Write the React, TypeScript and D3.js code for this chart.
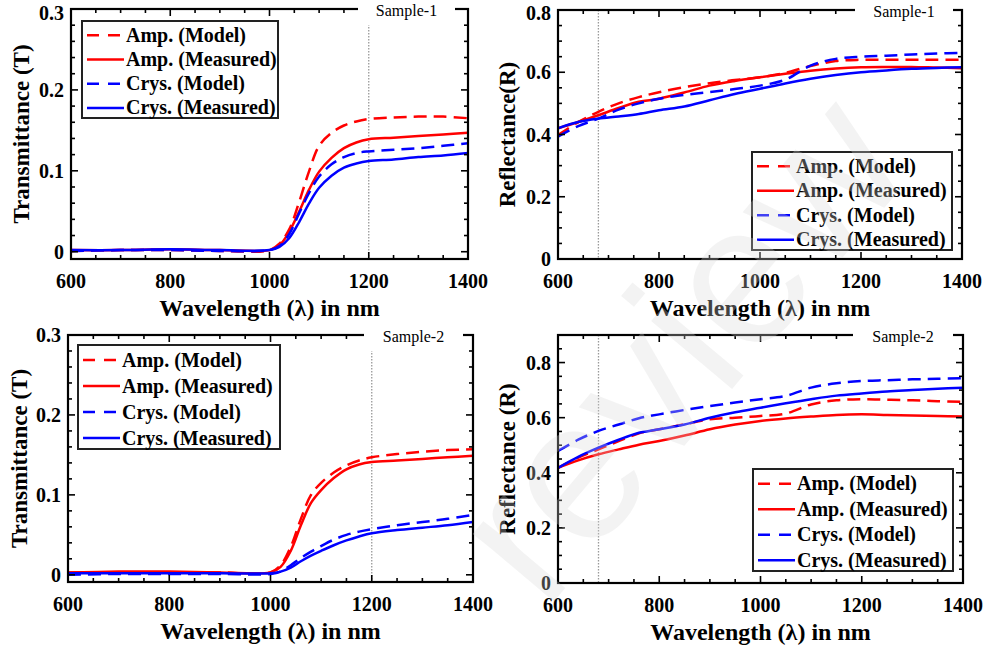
import React, { useEffect, useRef } from "react";
import * as d3 from "d3";

const W = 987;
const H = 655;
const SERIF = "Liberation Serif";

// wavelength grids (nm)
const waveT = [600, 700, 800, 900, 1000, 1020, 1040, 1060, 1080, 1100, 1125, 1150, 1175, 1200, 1250, 1300, 1350, 1400];
const waveR = [600, 640, 680, 720, 760, 800, 850, 900, 950, 1000, 1050, 1100, 1150, 1200, 1250, 1300, 1350, 1400];

// Sample-1 transmittance
const s1TAmpModel = [0.001, 0.002, 0.002, 0.001, 0.002, 0.01, 0.028, 0.062, 0.1, 0.131, 0.147, 0.156, 0.161, 0.164, 0.166, 0.167, 0.167, 0.165];
const s1TAmpMeas = [0.002, 0.002, 0.003, 0.002, 0.002, 0.008, 0.025, 0.05, 0.077, 0.099, 0.116, 0.128, 0.135, 0.139, 0.141, 0.143, 0.145, 0.147];
const s1TCrysModel = [0.001, 0.002, 0.002, 0.001, 0.002, 0.007, 0.022, 0.048, 0.073, 0.093, 0.108, 0.117, 0.122, 0.124, 0.126, 0.128, 0.131, 0.134];
const s1TCrysMeas = [0.002, 0.002, 0.003, 0.002, 0.002, 0.006, 0.017, 0.037, 0.06, 0.079, 0.094, 0.104, 0.109, 0.112, 0.114, 0.117, 0.119, 0.122];

// Sample-1 reflectance
const s1RAmpModel = [0.398, 0.44, 0.473, 0.5, 0.52, 0.536, 0.552, 0.565, 0.575, 0.584, 0.598, 0.62, 0.636, 0.64, 0.64, 0.64, 0.64, 0.64];
const s1RAmpMeas = [0.42, 0.44, 0.462, 0.485, 0.505, 0.515, 0.535, 0.557, 0.572, 0.584, 0.595, 0.605, 0.612, 0.616, 0.617, 0.617, 0.615, 0.613];
const s1RCrysModel = [0.393, 0.427, 0.451, 0.48, 0.5, 0.515, 0.527, 0.536, 0.546, 0.557, 0.576, 0.621, 0.643, 0.65, 0.653, 0.657, 0.66, 0.662];
const s1RCrysMeas = [0.42, 0.44, 0.451, 0.458, 0.466, 0.478, 0.49, 0.51, 0.53, 0.547, 0.564, 0.579, 0.591, 0.6, 0.606, 0.611, 0.614, 0.616];

// Sample-2 transmittance
const s2TAmpModel = [0.003, 0.003, 0.003, 0.003, 0.003, 0.012, 0.035, 0.07, 0.1, 0.115, 0.128, 0.137, 0.143, 0.147, 0.151, 0.154, 0.156, 0.157];
const s2TAmpMeas = [0.003, 0.004, 0.004, 0.003, 0.003, 0.01, 0.03, 0.062, 0.09, 0.106, 0.121, 0.132, 0.138, 0.141, 0.143, 0.145, 0.147, 0.149];
const s2TCrysModel = [0.0, 0.001, 0.001, 0.001, 0.001, 0.004, 0.012, 0.021, 0.029, 0.036, 0.044, 0.05, 0.054, 0.057, 0.062, 0.066, 0.07, 0.075];
const s2TCrysMeas = [0.002, 0.002, 0.002, 0.002, 0.002, 0.004, 0.009, 0.017, 0.024, 0.03, 0.037, 0.043, 0.048, 0.052, 0.056, 0.059, 0.062, 0.066];

// Sample-2 reflectance
const s2RAmpModel = [0.418, 0.455, 0.485, 0.515, 0.543, 0.558, 0.576, 0.594, 0.6, 0.606, 0.615, 0.648, 0.663, 0.667, 0.665, 0.663, 0.66, 0.657];
const s2RAmpMeas = [0.418, 0.445, 0.467, 0.485, 0.502, 0.515, 0.535, 0.558, 0.575, 0.588, 0.597, 0.604, 0.61, 0.612, 0.61, 0.608, 0.606, 0.604];
const s2RCrysModel = [0.479, 0.52, 0.552, 0.575, 0.598, 0.612, 0.628, 0.642, 0.655, 0.667, 0.679, 0.709, 0.725, 0.733, 0.736, 0.739, 0.741, 0.743];
const s2RCrysMeas = [0.418, 0.458, 0.491, 0.52, 0.545, 0.558, 0.575, 0.6, 0.62, 0.636, 0.652, 0.667, 0.68, 0.688, 0.695, 0.7, 0.705, 0.709];

const seriesNames = ["Amp. (Model)", "Amp. (Measured)", "Crys. (Model)", "Crys. (Measured)"];
const seriesColors = ["#ff0000", "#ff0000", "#0000ff", "#0000ff"];
const seriesDashed = [true, false, true, false];

const panels = [
  {
    wave: waveT, values: [s1TAmpModel, s1TAmpMeas, s1TCrysModel, s1TCrysMeas],
    left: 71, right: 468, top: 9, bottom: 259, yDomain: [-0.009, 0.3], yMajor: 0.1, yMinor: 0.02,
    yLabel: "Transmittance (T)", yLabelX: 21, legend: { x: 82, y: 21, w: 196, h: 97 },
    sample: "Sample-1", gap: [358, 455], dotX: 1200,
  },
  {
    wave: waveR, values: [s1RAmpModel, s1RAmpMeas, s1RCrysModel, s1RCrysMeas],
    left: 558, right: 962, top: 10, bottom: 259, yDomain: [0, 0.8], yMajor: 0.2, yMinor: 0.05,
    yLabel: "Reflectance(R)", yLabelX: 507, legend: { x: 752, y: 152, w: 200, h: 98 },
    sample: "Sample-1", gap: [855, 953], dotX: 680,
  },
  {
    wave: waveT, values: [s2TAmpModel, s2TAmpMeas, s2TCrysModel, s2TCrysMeas],
    left: 68, right: 473, top: 335, bottom: 582, yDomain: [-0.009, 0.3], yMajor: 0.1, yMinor: 0.02,
    yLabel: "Transmittance (T)", yLabelX: 19, legend: { x: 78, y: 345, w: 202, h: 104 },
    sample: "Sample-2", gap: [364, 463], dotX: 1200,
  },
  {
    wave: waveR, values: [s2RAmpModel, s2RAmpMeas, s2RCrysModel, s2RCrysMeas],
    left: 558, right: 963, top: 335, bottom: 583, yDomain: [0, 0.9], yMajor: 0.2, yMinor: 0.05,
    yLabel: "Reflectance (R)", yLabelX: 507, legend: { x: 753, y: 469, w: 200, h: 102 },
    sample: "Sample-2", gap: [853, 953], dotX: 680,
  },
];

const fmtY = (d: number) => (Math.abs(d) < 1e-9 ? "0" : d3.format(".1f")(d));

function serifText(sel: any, size: number, bold = true) {
  return sel
    .attr("font-family", SERIF)
    .attr("font-size", size)
    .attr("font-weight", bold ? "bold" : "normal");
}

function drawPanel(svg: any, p: any, idx: number) {
  const x = d3.scaleLinear().domain([600, 1400]).range([p.left, p.right]);
  const y = d3.scaleLinear().domain(p.yDomain).range([p.bottom, p.top]);
  const g = svg.append("g");

  g.append("clipPath").attr("id", `clip${idx}`)
    .append("rect").attr("x", p.left).attr("y", p.top)
    .attr("width", p.right - p.left).attr("height", p.bottom - p.top);

  // dotted marker line
  g.append("line")
    .attr("x1", x(p.dotX)).attr("x2", x(p.dotX))
    .attr("y1", p.top).attr("y2", p.bottom)
    .attr("stroke", "#999").attr("stroke-width", 1.3)
    .attr("stroke-dasharray", "1.5 1.5");

  const line = d3.line<number>()
    .x((_, i) => x(p.wave[i]))
    .y((d) => y(d))
    .curve(d3.curveCatmullRom.alpha(0.5));

  const curves = g.append("g").attr("clip-path", `url(#clip${idx})`);
  p.values.forEach((vals: number[], i: number) => {
    curves.append("path")
      .attr("d", line(vals))
      .attr("fill", "none")
      .attr("stroke", seriesColors[i])
      .attr("stroke-width", 2.5)
      .attr("stroke-dasharray", seriesDashed[i] ? "13 7" : null);
  });

  // ticks (inward, all four sides)
  const ticks = g.append("g").attr("stroke", "#000").attr("stroke-width", 1.6);
  d3.range(600, 1400.1, 50).forEach((v) => {
    const len = v % 200 === 0 ? 7 : 4;
    ticks.append("line").attr("x1", x(v)).attr("x2", x(v)).attr("y1", p.bottom).attr("y2", p.bottom - len);
    ticks.append("line").attr("x1", x(v)).attr("x2", x(v)).attr("y1", p.top).attr("y2", p.top + len);
  });
  d3.range(0, p.yDomain[1] + 1e-6, p.yMinor).forEach((v) => {
    const major = Math.abs(v / p.yMajor - Math.round(v / p.yMajor)) < 1e-6;
    const len = major ? 7 : 4;
    ticks.append("line").attr("x1", p.left).attr("x2", p.left + len).attr("y1", y(v)).attr("y2", y(v));
    ticks.append("line").attr("x1", p.right).attr("x2", p.right - len).attr("y1", y(v)).attr("y2", y(v));
  });

  // frame
  g.append("rect")
    .attr("x", p.left).attr("y", p.top)
    .attr("width", p.right - p.left).attr("height", p.bottom - p.top)
    .attr("fill", "none").attr("stroke", "#000").attr("stroke-width", 2.2);

  // sample tag sitting in a break of the top border
  g.append("rect")
    .attr("x", p.gap[0]).attr("y", p.top - 4)
    .attr("width", p.gap[1] - p.gap[0]).attr("height", 20)
    .attr("fill", "#fff");
  serifText(g.append("text"), 16, false)
    .attr("x", (p.gap[0] + p.gap[1]) / 2).attr("y", p.top + 7)
    .attr("text-anchor", "middle")
    .text(p.sample);

  // legend
  const lg = p.legend;
  const leg = g.append("g");
  leg.append("rect")
    .attr("x", lg.x).attr("y", lg.y).attr("width", lg.w).attr("height", lg.h)
    .attr("fill", "#fff").attr("stroke", "#222").attr("stroke-width", 2);
  const step = lg.h / 4;
  seriesNames.forEach((name, i) => {
    const cy = lg.y + step / 2 + 2 + i * step;
    leg.append("line")
      .attr("x1", lg.x + 5).attr("x2", lg.x + 42)
      .attr("y1", cy).attr("y2", cy)
      .attr("stroke", seriesColors[i]).attr("stroke-width", 2.5)
      .attr("stroke-dasharray", seriesDashed[i] ? "12 9" : null);
    serifText(leg.append("text"), 20)
      .attr("x", lg.x + 44).attr("y", cy).attr("dy", "0.33em")
      .text(name);
  });

  // tick labels
  d3.range(600, 1400.1, 200).forEach((v) => {
    serifText(g.append("text"), 20)
      .attr("x", x(v)).attr("y", p.bottom + 29)
      .attr("text-anchor", "middle").text(v);
  });
  d3.range(0, p.yDomain[1] + 1e-6, p.yMajor).forEach((v) => {
    serifText(g.append("text"), 20)
      .attr("x", p.left - 7).attr("y", Math.max(y(v), 13)).attr("dy", "0.35em")
      .attr("text-anchor", "end").text(fmtY(v));
  });

  // axis titles
  serifText(g.append("text"), 24)
    .attr("x", (p.left + p.right) / 2).attr("y", p.bottom + 57)
    .attr("text-anchor", "middle")
    .text("Wavelength (λ) in nm");
  serifText(g.append("text"), 23)
    .attr("transform", `translate(${p.yLabelX},${(p.top + p.bottom) / 2}) rotate(-90)`)
    .attr("text-anchor", "middle").attr("dy", "0.35em")
    .text(p.yLabel);
}

const App = () => {
  const svgRef = useRef<SVGSVGElement>(null);

  useEffect(() => {
    const svg = d3.select(svgRef.current);
    svg.selectAll("*").remove();
    svg.append("rect").attr("width", W).attr("height", H).attr("fill", "#fff");

    panels.forEach((p, i) => drawPanel(svg, p, i));

    // faint watermark across the right half
    svg.append("text")
      .attr("transform", "translate(545,612) rotate(-50)")
      .attr("font-family", "Liberation Sans")
      .attr("font-size", 200)
      .attr("fill", "#d8d8d8")
      .attr("fill-opacity", 0.3)
      .text("review");
  }, []);

  return (
    <div style={{ position: "absolute", left: 0, top: 0 }}>
      <svg ref={svgRef} width={W} height={H} style={{ display: "block" }}></svg>
    </div>
  );
};

export default App;
